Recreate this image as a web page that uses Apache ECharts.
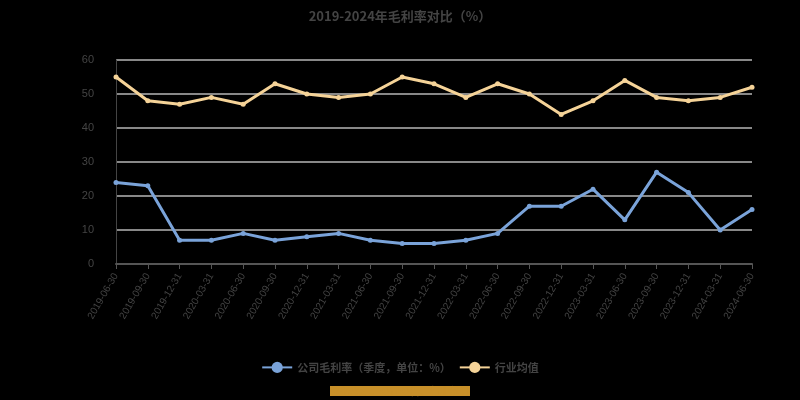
<!DOCTYPE html><html><head><meta charset="utf-8"><script src="https://cdn.jsdelivr.net/npm/echarts@6/dist/echarts.min.js"></script></head><body style="margin:0;background:#000"><div id="c" style="width:800px;height:400px"></div><script>
const categories=['2019-06-30','2019-09-30','2019-12-31','2020-03-31','2020-06-30','2020-09-30','2020-12-31','2021-03-31','2021-06-30','2021-09-30','2021-12-31','2022-03-31','2022-06-30','2022-09-30','2022-12-31','2023-03-31','2023-06-30','2023-09-30','2023-12-31','2024-03-31','2024-06-30'];
const companyVals=[24,23,7,7,9,7,8,9,7,6,6,7,9,17,17,22,13,27,21,10,16];
const industryVals=[55,48,47,49,47,53,50,49,50,55,53,49,53,50,44,48,54,49,48,49,52];
const yTicks=[0,10,20,30,40,50,60];
const ch=echarts.init(document.getElementById('c'));
const f='"Noto Sans CJK SC"';
ch.setOption({backgroundColor:'#000',
title:{text:'2019-2024年毛利率对比（%）',left:'center',top:5,textStyle:{color:'#444',fontSize:13,fontWeight:'bold',fontFamily:f}},
legend:{bottom:22,itemWidth:30,textStyle:{color:'#444',fontSize:11,fontFamily:f,fontWeight:'bold'},data:['公司毛利率（季度，单位：%）','行业均值']},
graphic:[{type:'text',left:'center',bottom:4,style:{text:'数据来源：公司公告、行业统计',fill:'#c8902a',fontSize:10,fontFamily:f,backgroundColor:'#c8902a'}}],
grid:{left:116,right:48,top:60,bottom:136},
xAxis:{type:'category',data:categories,boundaryGap:false,axisLine:{lineStyle:{color:'#555',width:2}},axisTick:{show:true,lineStyle:{color:'#555'}},axisLabel:{rotate:60,color:'#444',fontSize:10,interval:0,margin:10}},
yAxis:{type:'value',min:0,max:60,interval:10,axisLine:{show:true,lineStyle:{color:'#444'}},axisLabel:{color:'#444',fontSize:11,margin:22},splitLine:{lineStyle:{color:'#888',width:2}}},
series:[{name:'公司毛利率（季度，单位：%）',type:'line',data:companyVals,color:'#7aa3d9',lineStyle:{width:3},symbol:'circle',symbolSize:5},
{name:'行业均值',type:'line',data:industryVals,color:'#f5d398',lineStyle:{width:3},symbol:'circle',symbolSize:5}]});
</script></body></html>
